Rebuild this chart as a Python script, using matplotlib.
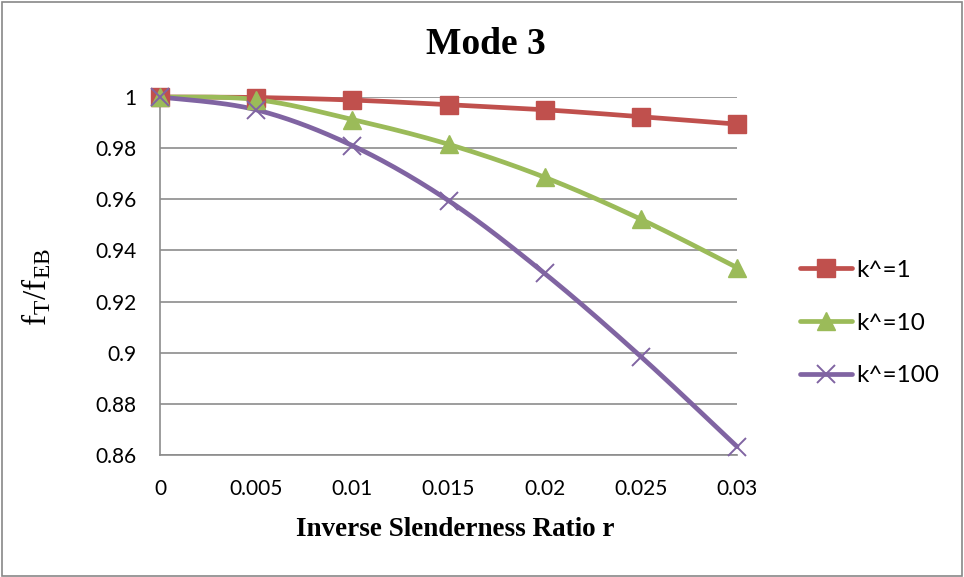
import numpy as np
import matplotlib
matplotlib.use("Agg")
import matplotlib.pyplot as plt
from matplotlib.lines import Line2D

r_values = [0, 0.005, 0.01, 0.015, 0.02, 0.025, 0.03]
k1 = [1.0, 0.9998, 0.9988, 0.9970, 0.9950, 0.9923, 0.9894]
k10 = [1.0, 0.9990, 0.9912, 0.9815, 0.9686, 0.9522, 0.9333]
k100 = [1.0, 0.9950, 0.9810, 0.9595, 0.9310, 0.8985, 0.8633]
series_labels = ["k^=1", "k^=10", "k^=100"]
x_ticks = [0, 0.005, 0.01, 0.015, 0.02, 0.025, 0.03]
x_tick_labels = ["0", "0.005", "0.01", "0.015", "0.02", "0.025", "0.03"]
y_ticks = [0.86, 0.88, 0.9, 0.92, 0.94, 0.96, 0.98, 1.0]
y_tick_labels = ["0.86", "0.88", "0.9", "0.92", "0.94", "0.96", "0.98", "1"]

colors = ["#C0504D", "#9BBB59", "#8064A2"]
markers = ["s", "^", "x"]
msizes = [13, 13, 13]


def smooth(xs, ys, n=40):
    P = np.column_stack([xs, ys]).astype(float)
    m = len(P)
    out = [P[0]]
    t = np.linspace(0, 1, n)[1:, None]
    for i in range(m - 1):
        p0 = P[i - 1] if i > 0 else P[i]
        p1 = P[i]
        p2 = P[i + 1]
        p3 = P[i + 2] if i + 2 < m else P[i + 1]
        c1 = p1 + (p2 - p0) / 6.0
        c2 = p2 - (p3 - p1) / 6.0
        seg = ((1 - t) ** 3) * p1 + 3 * ((1 - t) ** 2) * t * c1 + 3 * (1 - t) * t ** 2 * c2 + t ** 3 * p2
        out.extend(seg)
    out = np.array(out)
    return out[:, 0], out[:, 1]


plt.rcParams["mathtext.fontset"] = "custom"
plt.rcParams["mathtext.rm"] = "Liberation Serif"
plt.rcParams["mathtext.it"] = "Liberation Serif"

fig = plt.figure(figsize=(9.64, 5.77), dpi=100)
fig.patch.set_facecolor("white")
fig.add_artist(plt.Rectangle((0.002, 0.002), 0.996, 0.994, transform=fig.transFigure,
                             fill=False, edgecolor="#888888", linewidth=1.2))

ax = fig.add_axes([160 / 964, 1 - 455 / 577, (737 - 160) / 964, (455 - 97) / 577])
ax.set_xlim(0, 0.03)
ax.set_ylim(0.86, 1.0)

for yv in y_ticks:
    ax.axhline(yv, color="#8C8C8C", linewidth=1.2, zorder=1)

handles = []
for ys, c, mk, ms, lab in zip([k1, k10, k100], colors, markers, msizes, series_labels):
    sx, sy = smooth(r_values, ys)
    ax.plot(sx, sy, color=c, linewidth=3.4, zorder=3, clip_on=False, solid_capstyle="round")
    if mk == "x":
        ax.plot(r_values, ys, linestyle="none", marker=mk, markersize=ms, color=c,
                markeredgewidth=1.4, zorder=4, clip_on=False)
    else:
        ax.plot(r_values, ys, linestyle="none", marker=mk, markersize=ms, color=c,
                markeredgecolor=c, zorder=4, clip_on=False)
    handles.append(Line2D([0], [0], color=c, linewidth=3.4, marker=mk, markersize=ms,
                          markeredgewidth=1.4 if mk == "x" else 1.0, solid_capstyle="round",
                          label=lab))

for side in ["top", "right"]:
    ax.spines[side].set_visible(False)
ax.spines["left"].set_color("#8C8C8C")
ax.spines["bottom"].set_color("#8C8C8C")
ax.spines["left"].set_linewidth(1.2)
ax.spines["bottom"].set_linewidth(1.2)

ax.set_xticks(x_ticks)
ax.set_xticklabels(x_tick_labels, fontfamily="Lato", fontsize=15)
ax.set_yticks(y_ticks)
ax.set_yticklabels(y_tick_labels, fontfamily="Lato", fontsize=15)
ax.tick_params(axis="x", length=0, pad=17, colors="black")
ax.tick_params(axis="y", length=0, pad=17, colors="black")

fig.text(486 / 964, 1 - 45 / 577, "Mode 3", ha="center", va="center",
         fontfamily="Liberation Serif", fontweight="bold", fontsize=27)
fig.text(455 / 964, 1 - 530 / 577, "Inverse Slenderness Ratio r", ha="center", va="center",
         fontfamily="Liberation Serif", fontweight="bold", fontsize=19.5)
fig.text(36 / 964, 1 - 287 / 577, r"$\mathregular{f_T/f_{EB}}$", ha="center", va="center",
         rotation=90, fontfamily="Liberation Serif", fontsize=24)

leg = fig.legend(handles=handles, loc="center left", bbox_to_anchor=(800 / 964, 1 - 323 / 577),
                 frameon=False, prop={"family": "Lato", "size": 17.5}, handlelength=2.15,
                 handletextpad=0.15, labelspacing=1.3, borderpad=0, borderaxespad=0)

fig.savefig("out.png", dpi=100)
